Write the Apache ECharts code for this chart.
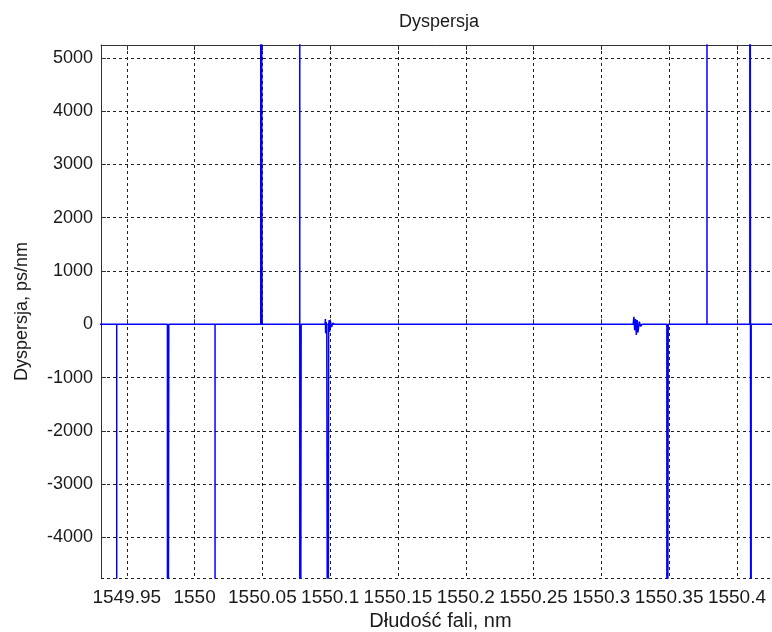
<!DOCTYPE html>
<html>
<head>
<meta charset="utf-8">
<title>Dyspersja</title>
<script src="https://cdn.jsdelivr.net/npm/echarts@6/dist/echarts.min.js"></script>
<style>
  html, body { margin: 0; padding: 0; background: #fff; }
  #chart { width: 772px; height: 632px; }
</style>
</head>
<body>
<div id="chart"></div>
<script>
// wavelength samples (nm) and dispersion (ps/nm)
// the spikes go far past the axis range, so they are cut at the frame
const wavelength = [
  1549.925, 1549.9426, 1549.9426, 1549.9426,
  1549.9800, 1549.9800, 1549.9810, 1549.9810,
  1550.0151, 1550.0151, 1550.0151,
  1550.0488, 1550.0488, 1550.0498, 1550.0498,
  1550.0776, 1550.0776, 1550.0776, 1550.0786, 1550.0786,
  1550.0962, 1550.0965, 1550.0967, 1550.0970, 1550.0975,
  1550.0989, 1550.0989, 1550.0980, 1550.0980, 1550.0980, 1550.0989, 1550.0989,
  1550.0993, 1550.0997, 1550.1002, 1550.1010, 1550.1020, 1550.1035,
  1550.3235, 1550.3240, 1550.3246, 1550.3252, 1550.3258, 1550.3264, 1550.3270,
  1550.3280, 1550.3290, 1550.3300,
  1550.3483, 1550.3483, 1550.3493, 1550.3493,
  1550.3779, 1550.3779, 1550.3779,
  1550.4095, 1550.4095, 1550.4105, 1550.4105, 1550.4105,
  1550.4350
];
const dispersion = [
  0, 0, -20000, 0,
  0, -20000, -20000, 0,
  0, -20000, 0,
  0, 20000, 20000, 0,
  0, 20000, -20000, -20000, 0,
  0, 100, -170, 40, 0,
  0, -20000, -20000, -2400, -20000, -20000, 0,
  80, -140, 60, -50, 20, 0,
  0, 140, -110, 100, -200, 80, -150,
  50, -40, 0,
  0, -20000, -20000, 0,
  0, 20000, 0,
  0, 20000, 20000, -20000, 0,
  0
];

// the frame runs on past the right edge of the picture
const xRange = [1549.931, 1550.4288];
const yRange = [-4760, 5240];

const titleText = 'Dyspersja';
const xName = 'Dłudość fali, nm';
const yName = 'Dyspersja, ps/nm';

const font = 'Liberation Sans, Arial, sans-serif';
const ink = '#1a1a1a';

const chart = echarts.init(document.getElementById('chart'));

const gridLine = { show: true, lineStyle: { color: '#222', width: 1, type: [3, 3] } };

chart.setOption({
  animation: false,
  backgroundColor: '#fff',
  title: {
    text: titleText, left: 434, top: 8, textAlign: 'center',
    textStyle: { fontFamily: font, fontSize: 18, fontWeight: 'normal', color: ink }
  },
  grid: { left: 101, right: -4, top: 45, bottom: 54, outerBoundsMode: 'none' },
  xAxis: [
    {
      type: 'value', min: xRange[0], max: xRange[1], splitNumber: 10,
      name: xName, nameLocation: 'middle', nameGap: 33,
      nameTextStyle: { fontFamily: font, fontSize: 20, color: ink, padding: [0, 0, 0, 4] },
      axisLine: { lineStyle: { color: '#333' } },
      axisTick: { inside: true, length: 5, lineStyle: { color: '#333' } },
      axisLabel: {
        margin: 10, fontFamily: font, fontSize: 19, color: ink,
        showMinLabel: false, showMaxLabel: false, hideOverlap: false,
        formatter: (v) => String(+v.toFixed(3))
      },
      splitLine: gridLine
    },
    {
      type: 'value', position: 'top', min: xRange[0], max: xRange[1], splitNumber: 10,
      axisLine: { show: true, onZero: false, lineStyle: { color: '#333' } },
      axisTick: { inside: true, length: 5, lineStyle: { color: '#333' } },
      axisLabel: { show: false },
      splitLine: { show: false }
    }
  ],
  yAxis: {
    type: 'value', min: yRange[0], max: yRange[1], splitNumber: 10,
    name: yName, nameLocation: 'middle', nameGap: 70,
    nameTextStyle: { fontFamily: font, fontSize: 18, color: ink },
    axisLine: { show: true, lineStyle: { color: '#333' } },
    axisTick: { show: true, inside: true, length: 5, lineStyle: { color: '#333' } },
    axisLabel: {
      margin: 8, fontFamily: font, fontSize: 18, color: ink,
      showMinLabel: false, showMaxLabel: false,
      formatter: (v) => String(v)
    },
    splitLine: gridLine
  },
  series: [{
    type: 'line',
    xAxisIndex: 0,
    data: wavelength.map((w, i) => [w, dispersion[i]]),
    showSymbol: false,
    clip: true,
    lineStyle: { color: '#0000ff', width: 1.5 }
  }]
});
</script>
</body>
</html>
